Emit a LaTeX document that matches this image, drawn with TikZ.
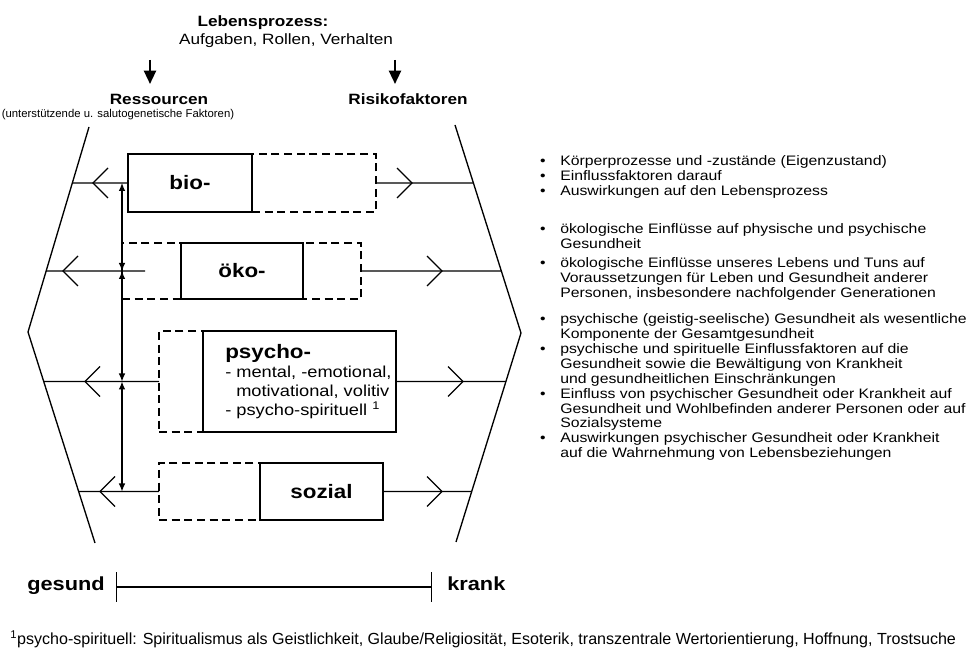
\documentclass[tikz,border=0pt]{standalone}
\usepackage{fontspec}
\setmainfont{Liberation Sans}[FakeStretch=1.15]
\newfontfamily\plainsans{Liberation Sans}
\usetikzlibrary{arrows.meta,positioning}

\newcommand\headfont{\fontsize{11.2}{13}\selectfont}
\newcommand\boxfont{\fontsize{14.6}{17}\selectfont\bfseries}
\newcommand\subfont{\fontsize{11.9}{14.25}\selectfont}
\newcommand\listfont{\fontsize{10.3}{11.25}\selectfont}
\newcommand\scalefont{\fontsize{14.2}{17}\selectfont\bfseries}
\newcommand\notefont{\plainsans\fontsize{12.05}{13}\selectfont}

\begin{document}
\begin{tikzpicture}[x=0.75pt, y=-0.75pt,
    rim/.style={line width=1pt},
    link/.style={line width=0.9pt},
    fullbox/.style={draw, line width=1.1pt, inner sep=0pt, outer sep=0pt, font=\boxfont},
    dashbox/.style={draw, line width=0.9pt, dash pattern=on 6pt off 3.5pt, inner sep=0pt, outer sep=0pt},
    updown/.style={{Latex[length=6pt,width=5pt]}-{Latex[length=6pt,width=5pt]}, line width=0.9pt},
    down/.style={-{Triangle[length=10pt,width=9pt]}, line width=1.7pt}]

    \useasboundingbox (0,0) rectangle (967,655);

    % Kopf
    \node[font=\headfont\bfseries] (leb) at (263,23) {Lebensprozess:};
    \node[font=\headfont] (auf) at (286,41) {Aufgaben, Rollen, Verhalten};
    \node[font=\headfont\bfseries] (res) at (159,99) {Ressourcen};
    \node[font=\plainsans\fontsize{8.5}{10}\selectfont] (resnote) at (118,115) {(unterstützende u. salutogenetische Faktoren)};
    \node[font=\headfont\bfseries] (risk) at (408,99) {Risikofaktoren};
    \coordinate (resTop) at (150,60);
    \coordinate (resTip) at (150,84);
    \coordinate (riskTop) at (395,60);
    \coordinate (riskTip) at (395,84);
    \draw[down] (resTop) -- (resTip);
    \draw[down] (riskTop) -- (riskTip);

    % Raender
    \coordinate (lt) at (89,127);
    \coordinate (lm) at (28,332);
    \coordinate (lb) at (95,543);
    \coordinate (rt) at (455,125);
    \coordinate (rm) at (521,333);
    \coordinate (rb) at (456,542);
    \draw[rim] (lt) -- (lm) -- (lb);
    \draw[rim] (rt) -- (rm) -- (rb);

    % Kaesten
    \node[fullbox, minimum width=93pt, minimum height=43.5pt] (bio) at (190,183) {bio-};
    \node[dashbox, minimum width=93pt, minimum height=43.5pt, right=0pt of bio] (bioD) {};

    \node[dashbox, minimum width=179.25pt, minimum height=42pt] (okoD) at (241.5,271) {};
    \node[fullbox, minimum width=91.5pt, minimum height=42pt] (oko) at (242,271) {öko-};

    \node[fullbox, minimum width=144.75pt, minimum height=75.75pt] (psy) at (299.5,381.5) {};
    \node[dashbox, minimum width=33pt, minimum height=75.75pt, left=0pt of psy] (psyD) {};
    \node[anchor=west, align=left, inner sep=0pt, font=\subfont] (psytext) at ([xshift=16.5pt]psy.west)
        {{\boxfont psycho-}\\- mental, -emotional,\\\hspace*{8.25pt}motivational, volitiv\\- psycho-spirituell \textsuperscript{1}};

    \node[fullbox, minimum width=92.25pt, minimum height=42.75pt] (soz) at (321.5,491.5) {sozial};
    \node[dashbox, minimum width=75.75pt, minimum height=42.75pt, left=0pt of soz] (sozD) {};

    % Verbindungen zu den Raendern
    \coordinate (bioRes) at (intersection of lt--lm and bio.west--bio.east);
    \coordinate (bioRisk) at (intersection of rt--rm and bio.west--bio.east);
    \coordinate (okoRes) at (intersection of lt--lm and okoD.west--okoD.east);
    \coordinate (okoRisk) at (intersection of rt--rm and okoD.west--okoD.east);
    \coordinate (okoEnd) at (145,271);
    \coordinate (psyRes) at (intersection of lm--lb and psy.west--psy.east);
    \coordinate (psyRisk) at (intersection of rm--rb and psy.west--psy.east);
    \coordinate (sozRes) at (intersection of lm--lb and soz.west--soz.east);
    \coordinate (sozRisk) at (intersection of rm--rb and soz.west--soz.east);
    \draw[link] (bio.west) -- (bioRes);
    \draw[link] (bioD.east) -- (bioRisk);
    \draw[link] (okoEnd) -- (okoRes);
    \draw[link] (okoD.east) -- (okoRisk);
    \draw[link] (psyD.west) -- (psyRes);
    \draw[link] (psy.east) -- (psyRisk);
    \draw[link] (sozD.west) -- (sozRes);
    \draw[link] (soz.east) -- (sozRisk);

    \foreach \cx/\cy in {93/183, 63/271, 85/381.5, 100/491.5}
        \draw[link] (\cx+15,\cy-15) -- (\cx,\cy) -- (\cx+15,\cy+15);
    \foreach \cx/\cy in {412/183, 442/271, 463/381.5, 442/491.5}
        \draw[link] (\cx-15,\cy-15) -- (\cx,\cy) -- (\cx-15,\cy+15);

    % Doppelpfeile
    \coordinate (v1) at (122,183);
    \coordinate (v2) at (122,271);
    \coordinate (v3) at (122,381.5);
    \coordinate (v4) at (122,491.5);
    \draw[updown] (v1) -- (v2);
    \draw[updown] (v2) -- (v3);
    \draw[updown] (v3) -- (v4);

    % Liste rechts
    \foreach \y/\b/\t [count=\i] in {162/1/{Körperprozesse und -zustände (Eigenzustand)},
            177/1/{Einflussfaktoren darauf}, 192/1/{Auswirkungen auf den Lebensprozess},
            230/1/{ökologische Einflüsse auf physische und psychische}, 245/0/{Gesundheit},
            264/1/{ökologische Einflüsse unseres Lebens und Tuns auf},
            279/0/{Voraussetzungen für Leben und Gesundheit anderer},
            294/0/{Personen, insbesondere nachfolgender Generationen},
            320/1/{psychische (geistig-seelische) Gesundheit als wesentliche},
            335/0/{Komponente der Gesamtgesundheit},
            350/1/{psychische und spirituelle Einflussfaktoren auf die},
            365/0/{Gesundheit sowie die Bewältigung von Krankheit},
            380/0/{und gesundheitlichen Einschränkungen},
            395/1/{Einfluss von psychischer Gesundheit oder Krankheit auf},
            410/0/{Gesundheit und Wohlbefinden anderer Personen oder auf},
            424/0/{Sozialsysteme},
            439/1/{Auswirkungen psychischer Gesundheit oder Krankheit},
            454/0/{auf die Wahrnehmung von Lebensbeziehungen}} {
        \node[anchor=mid west, inner sep=0pt, font=\listfont] (line\i) at (560,\y) {\t};
        \ifnum\b=1
            \node[anchor=mid, inner sep=0pt, font=\listfont] (dot\i) at (543,\y) {\textbullet};
        \fi
    }

    % Skala
    \node[anchor=mid east, inner sep=0pt, font=\scalefont] (gesund) at (105,587) {gesund};
    \node[anchor=mid west, inner sep=0pt, font=\scalefont] (krank) at (447,587) {krank};
    \draw[{Bar[width=22pt]}-{Bar[width=22pt]}, link, shorten <=8.25pt, shorten >=11.25pt] (gesund.mid east) -- (krank.mid west);

    \node[anchor=mid west, inner sep=0pt, font=\notefont] (note) at (10,641)
        {\textsuperscript{1}psycho-spirituell: Spiritualismus als Geistlichkeit, Glaube/Religiosität, Esoterik, transzentrale Wertorientierung, Hoffnung, Trostsuche};
\end{tikzpicture}
\end{document}
